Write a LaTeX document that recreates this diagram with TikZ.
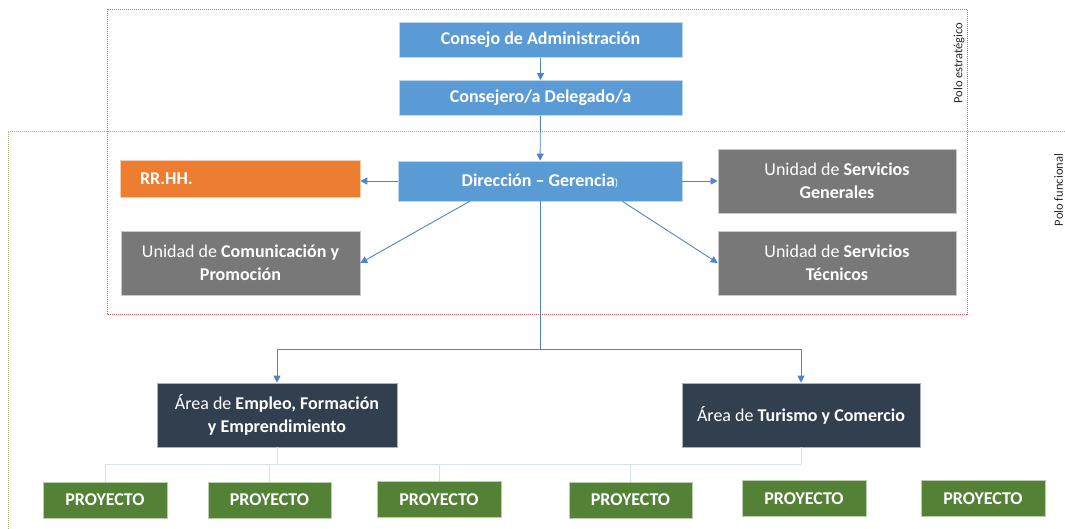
\documentclass[tikz,border=0pt]{standalone}
\usepackage{fontspec}
\setmainfont{Carlito}
\usetikzlibrary{arrows.meta,calc}
\definecolor{bxblue}{HTML}{5B9BD5}
\definecolor{bxorange}{HTML}{ED7D31}
\definecolor{bxgray}{HTML}{787878}
\definecolor{bxdark}{HTML}{323F4F}
\definecolor{bxgreen}{HTML}{538135}
\definecolor{arblue}{HTML}{4F84CC}
\definecolor{faintblue}{HTML}{D5E2F2}
\definecolor{poloRed}{HTML}{E05A64}
\definecolor{poloGreen}{HTML}{98B878}
\tikzset{
  box/.style={fill=#1, draw=white!60!#1, line width=0.6pt, text=white, inner sep=2pt, align=center,
    font=\fontsize{18}{23}\selectfont},
  arr/.style={draw=arblue, line width=0.9pt, -{Triangle[length=7pt,width=7pt]}},
  faint/.style={draw=faintblue, line width=0.8pt},
  polo/.style={line width=0.8pt, dash pattern=on 1pt off 1pt},
  polotext/.style={rotate=90, font=\fontsize{12.5}{14}\selectfont, text=black!85, inner sep=0pt},
}
\begin{document}
\begin{tikzpicture}[x=1pt,y=-1pt]
\useasboundingbox (0,0) rectangle (1065,528);
% poles
\draw[polo, draw=poloGreen] (1085,131) -- (8,131) -- (8,548);
\draw[polo, draw=poloRed] (107,9) rectangle (967,314);
\node[polotext] (pe) at (959,63) {Polo estratégico};
\node[polotext] (pf) at (1058.5,190) {Polo funcional};
% top boxes
\node[box=bxblue, minimum width=283, minimum height=35] (cons) at (540.5,40) {\bfseries Consejo de Administración};
\node[box=bxblue, minimum width=283, minimum height=35] (deleg) at (540.5,98) {\bfseries Consejero/a Delegado/a};
\node[box=bxblue, minimum width=284, minimum height=40] (dir) at (540,181) {\bfseries Dirección – Gerencia{\mdseries\fontsize{11}{12}\selectfont)}};
\node[box=bxorange, minimum width=240, minimum height=37, text width=200, align=left] (rrhh) at (240,178.5) {\bfseries RR.HH.};
\node[box=bxgray, minimum width=239, minimum height=64] (com) at (240.5,263) {Unidad de \textbf{Comunicación y}\\\textbf{Promoción}};
\node[box=bxgray, minimum width=238, minimum height=64] (sg) at (837,181) {Unidad de \textbf{Servicios}\\\textbf{Generales}};
\node[box=bxgray, minimum width=238, minimum height=64] (st) at (837,263) {Unidad de \textbf{Servicios}\\\textbf{Técnicos}};
% areas
\node[box=bxdark, minimum width=240, minimum height=64] (empleo) at (277,415) {Área de \textbf{Empleo, Formación}\\\textbf{y Emprendimiento}};
\node[box=bxdark, minimum width=238, minimum height=64] (turismo) at (801,415) {Área de \textbf{Turismo y Comercio}};
% projects
\node[box=bxgreen, minimum width=124, minimum height=36] (p1) at (105,500) {\bfseries PROYECTO};
\node[box=bxgreen, minimum width=123, minimum height=36] (p2) at (269.5,500) {\bfseries PROYECTO};
\node[box=bxgreen, minimum width=124, minimum height=36] (p3) at (439,499.5) {\bfseries PROYECTO};
\node[box=bxgreen, minimum width=123, minimum height=36] (p4) at (630.5,500) {\bfseries PROYECTO};
\node[box=bxgreen, minimum width=124, minimum height=36] (p5) at (804,498.5) {\bfseries PROYECTO};
\node[box=bxgreen, minimum width=124, minimum height=36] (p6) at (983,498.5) {\bfseries PROYECTO};
% connectors
\draw[arr] (cons) -- (deleg);
\draw[arr] (deleg) -- (dir);
\draw[arr] (dir.west) -- (dir.west -| rrhh.east);
\draw[arr] (dir.east) -- (dir.east -| sg.west);
\draw[arr] ($(dir.south west)+(72,0)$) -- (com.east);
\draw[arr] ($(dir.south east)+(-60,0)$) -- (st.west);
\coordinate (split) at (540,349);
\draw[draw=arblue, line width=0.9pt] (dir.south) -- (split);
\draw[arr] (split) -| (empleo.north);
\draw[arr] (split) -| (turismo.north);
% faint project links
\coordinate (bus) at (0,464);
\draw[faint] (empleo.south) -- (empleo.south |- bus);
\draw[faint] (turismo.south) -- (turismo.south |- bus);
\draw[faint] (p1.north |- bus) -- (turismo.south |- bus);
\foreach \p in {p1,p2,p3,p4} { \draw[faint] (\p.north |- bus) -- (\p.north); }
\end{tikzpicture}
\end{document}
